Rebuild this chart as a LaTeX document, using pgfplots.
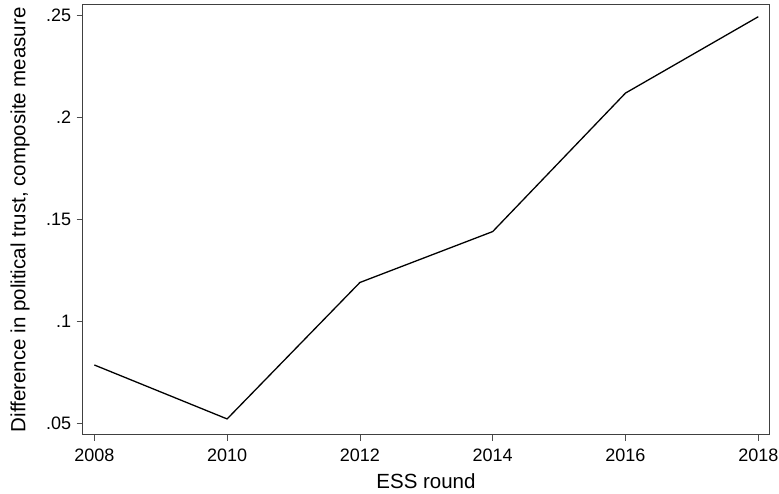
\documentclass[border=0pt]{standalone}
\usepackage{fontspec}
\setmainfont{Liberation Sans}
\usepackage{pgfplots}
\pgfplotsset{compat=1.18}
\begin{document}
\begin{tikzpicture}
\path[use as bounding box] (-82.7pt,-59.3pt) rectangle (696.3pt,434.7pt);
\begin{axis}[
  scale only axis,
  width=686.6pt, height=430pt,
  xmin=2007.825, xmax=2018.166,
  ymin=0.04426, ymax=0.2554,
  xtick={2008,2010,2012,2014,2016,2018},
  xticklabels={2008,2010,2012,2014,2016,2018},
  ytick={0.05,0.1,0.15,0.2,0.25},
  yticklabels={.05,.1,.15,.2,.25},
  tick align=outside,
  xtick pos=left, ytick pos=left,
  major tick length=6pt,
  tick style={black!70, line width=0.8pt},
  axis line style={black!75, line width=1pt},
  /pgf/number format/assume math mode=true,
  ticklabel style={font=\fontsize{18}{18}\selectfont},
  xticklabel style={yshift=-5pt},
  yticklabel style={xshift=-2pt},
  label style={font=\fontsize{20.5}{20.5}\selectfont},
  xlabel={ESS round},
  ylabel={Difference in political trust, composite measure},
  xlabel style={at={(axis description cs:0.5,-0.107)}, anchor=center},
  ylabel style={at={(axis description cs:-0.0913,0.5)}, anchor=center},
]
\addplot[black, line width=1.3pt, mark=none] coordinates {
  (2008,0.0785) (2010,0.052) (2012,0.119) (2014,0.144) (2016,0.212) (2018,0.2495)
};
\end{axis}
\end{tikzpicture}
\end{document}
